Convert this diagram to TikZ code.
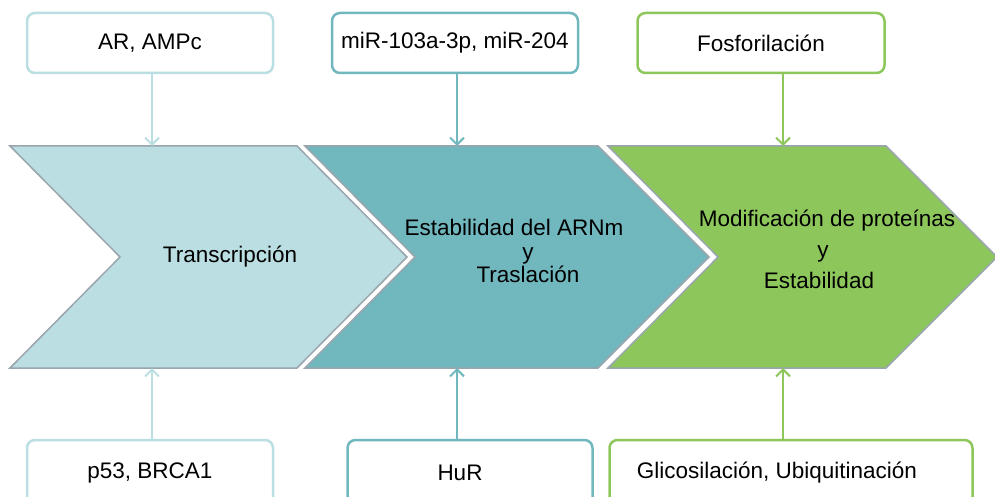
\documentclass[tikz,border=0pt]{standalone}
\usepackage{fontspec}
\setmainfont{Liberation Sans}
\usetikzlibrary{arrows.meta}
\definecolor{tealpale}{HTML}{BADEE1}
\definecolor{tealmid}{HTML}{71B7BE}
\definecolor{leafgreen}{HTML}{8DC75B}
\definecolor{rimgray}{HTML}{9AA5AD}

\begin{document}
\begin{tikzpicture}[x=1pt, y=-1pt,
        font=\fontsize{22.5}{24}\selectfont,
        factor/.style={draw=#1, line width=2.5pt, rounded corners=8pt,
            fill=white, minimum height=60pt, inner sep=0pt},
        stage/.style={fill=#1, draw=rimgray, line width=1.5pt, line join=miter},
        hook/.style={draw=#1, line width=2pt,
            -{Straight Barb[length=7pt, width=14pt, line width=2pt]}}]
    \useasboundingbox (0,0) rectangle (995,497);
    \clip (0,0) rectangle (995,497);

    % stages
    \draw[stage=tealpale] (10,146) -- (297,146) -- (407,257) -- (297,368)
        -- (10,368) -- (120,257) -- cycle;
    \draw[stage=tealmid] (305,146) -- (598,146) -- (709,257) -- (598,368)
        -- (305,368) -- (415,257) -- cycle;
    \draw[stage=leafgreen] (608,146) -- (886,146) -- (997,257) -- (886,368)
        -- (608,368) -- (718,257) -- cycle;

    \coordinate (in1) at (152,146);
    \coordinate (in2) at (457,146);
    \coordinate (in3) at (783,146);
    \coordinate (up1) at (152,368);
    \coordinate (up2) at (457,368);
    \coordinate (up3) at (783,368);

    \node (tra) at (230,257) {Transcripción};
    \node[align=center, font=\fontsize{22.5}{23.5}\selectfont] (est) at (521,251)
        {Estabilidad del ARNm\hspace*{14pt}\\\hspace*{14pt}y\\\hspace*{14pt}Traslación};
    \node[align=center, font=\fontsize{22.5}{31}\selectfont] (mod) at (823,249)
        {\hspace*{8pt}Modificación de proteínas\\y\\Estabilidad\hspace*{8pt}};

    % regulators above
    \node[factor=tealpale, minimum width=246pt] (ar) at (150,43) {AR, AMPc};
    \node[factor=tealmid, minimum width=246pt] (mir) at (455,43) {miR-103a-3p, miR-204};
    \node[factor=leafgreen, minimum width=247pt] (fos) at (761,43) {Fosforilación};

    % regulators below
    \node[factor=tealpale, minimum width=246pt, minimum height=66pt] (p53) at (150,473) {p53, BRCA1};
    \node[factor=tealmid, minimum width=245pt, minimum height=66pt] (hur) at (470,473)
        {\hspace*{-20pt}HuR};
    \node[factor=leafgreen, minimum width=363pt, minimum height=66pt] (gli) at (791,473)
        {\hspace*{-28pt}Glicosilación, Ubiquitinación};

    \draw[hook=tealpale] (in1 |- ar.south) -- (in1);
    \draw[hook=tealmid] (in2 |- mir.south) -- (in2);
    \draw[hook=leafgreen] (in3 |- fos.south) -- (in3);
    \draw[hook=tealpale] (up1 |- p53.north) -- (up1);
    \draw[hook=tealmid] (up2 |- hur.north) -- (up2);
    \draw[hook=leafgreen] (up3 |- gli.north) -- (up3);
\end{tikzpicture}
\end{document}
